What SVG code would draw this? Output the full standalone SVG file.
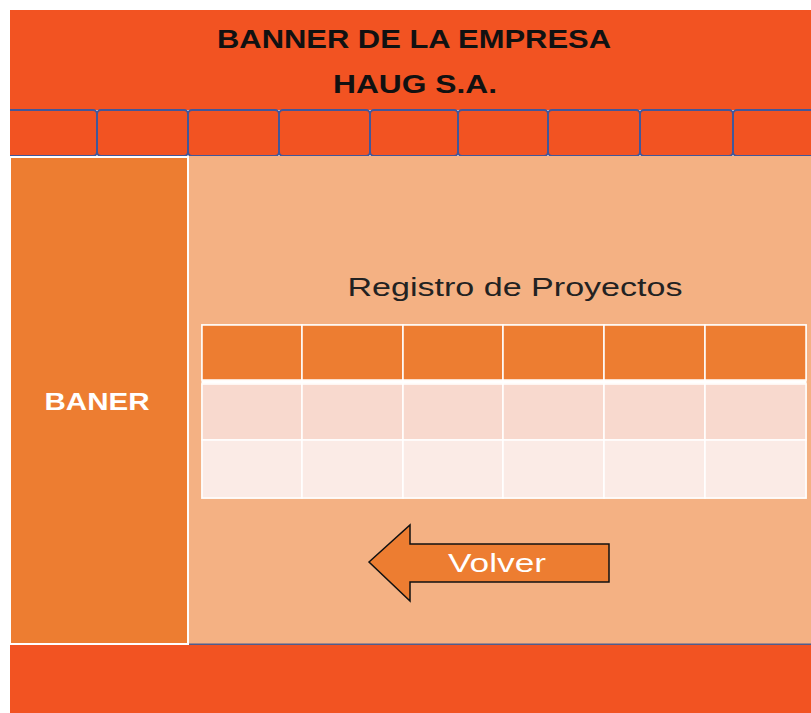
<svg xmlns="http://www.w3.org/2000/svg" width="811" height="713" viewBox="0 0 811 713">
<style>
.hdr{fill:#F25322}
.nav{fill:#F25322;stroke:#42579A;stroke-width:2}
.t{font-family:"Liberation Sans",Arial,sans-serif}
.cell{stroke:#FFFFFF;stroke-width:1.5}
</style>
<rect width="811" height="713" fill="#FFFFFF"/>
<g id="header">
<rect class="hdr" x="10" y="10" width="801" height="100"/>
<text class="t" x="414" y="48" font-size="25" font-weight="bold" text-anchor="middle" fill="#111" textLength="394" lengthAdjust="spacingAndGlyphs">BANNER DE LA EMPRESA</text>
<text class="t" x="415" y="93" font-size="25" font-weight="bold" text-anchor="middle" fill="#111" textLength="164" lengthAdjust="spacingAndGlyphs">HAUG S.A.</text>
</g>
<g id="nav">
<rect class="nav" x="4" y="110" width="93" height="46" rx="4"/>
<rect class="nav" x="97" y="110" width="91" height="46" rx="4"/>
<rect class="nav" x="188" y="110" width="91" height="46" rx="4"/>
<rect class="nav" x="279" y="110" width="91" height="46" rx="4"/>
<rect class="nav" x="370" y="110" width="88" height="46" rx="4"/>
<rect class="nav" x="458" y="110" width="90" height="46" rx="4"/>
<rect class="nav" x="548" y="110" width="92" height="46" rx="4"/>
<rect class="nav" x="640" y="110" width="93" height="46" rx="4"/>
<rect class="nav" x="733" y="110" width="90" height="46" rx="4"/>
<rect x="0" y="100" width="10" height="70" fill="#FFFFFF"/>
</g>
<g id="main">
<rect x="188" y="156" width="623" height="489" fill="#F4B183"/>
<line x1="188" y1="644.5" x2="811" y2="644.5" stroke="#4F5D8E" stroke-width="2"/>
<text class="t" x="515" y="296" font-size="26" text-anchor="middle" fill="#222" textLength="335" lengthAdjust="spacingAndGlyphs">Registro de Proyectos</text>
</g>
<g id="baner">
<rect x="10" y="157" width="178" height="487" fill="#ED7D31" stroke="#FFFFFF" stroke-width="2"/>
<text class="t" x="97" y="410" font-size="24" font-weight="bold" text-anchor="middle" fill="#FFFFFF" textLength="105" lengthAdjust="spacingAndGlyphs">BANER</text>
</g>
<g id="footer">
<rect class="hdr" x="10" y="645" width="801" height="68"/>
</g>
<g id="table">
<rect x="201" y="324" width="606" height="175" fill="#FFFFFF" opacity="0.6"/>
<g fill="#ED7D31" class="cell">
<rect x="202" y="325" width="100" height="55"/>
<rect x="302" y="325" width="101" height="55"/>
<rect x="403" y="325" width="100" height="55"/>
<rect x="503" y="325" width="101" height="55"/>
<rect x="604" y="325" width="101" height="55"/>
<rect x="705" y="325" width="101" height="55"/>
</g>
<line x1="202" y1="382" x2="806" y2="382" stroke="#FFFFFF" stroke-width="3"/>
<g fill="#F8D9CE" class="cell">
<rect x="202" y="384" width="100" height="56"/>
<rect x="302" y="384" width="101" height="56"/>
<rect x="403" y="384" width="100" height="56"/>
<rect x="503" y="384" width="101" height="56"/>
<rect x="604" y="384" width="101" height="56"/>
<rect x="705" y="384" width="101" height="56"/>
</g>
<g fill="#FBEBE6" class="cell">
<rect x="202" y="440" width="100" height="58"/>
<rect x="302" y="440" width="101" height="58"/>
<rect x="403" y="440" width="100" height="58"/>
<rect x="503" y="440" width="101" height="58"/>
<rect x="604" y="440" width="101" height="58"/>
<rect x="705" y="440" width="101" height="58"/>
</g>
</g>
<g id="volver">
<polygon points="369,562 410,525 410,544 609,544 609,582 410,582 410,601" fill="#ED7D31" stroke="#111" stroke-width="1.5"/>
<text class="t" x="497" y="572" font-size="25" text-anchor="middle" fill="#FFFFFF" textLength="98" lengthAdjust="spacingAndGlyphs">Volver</text>
</g>
</svg>
